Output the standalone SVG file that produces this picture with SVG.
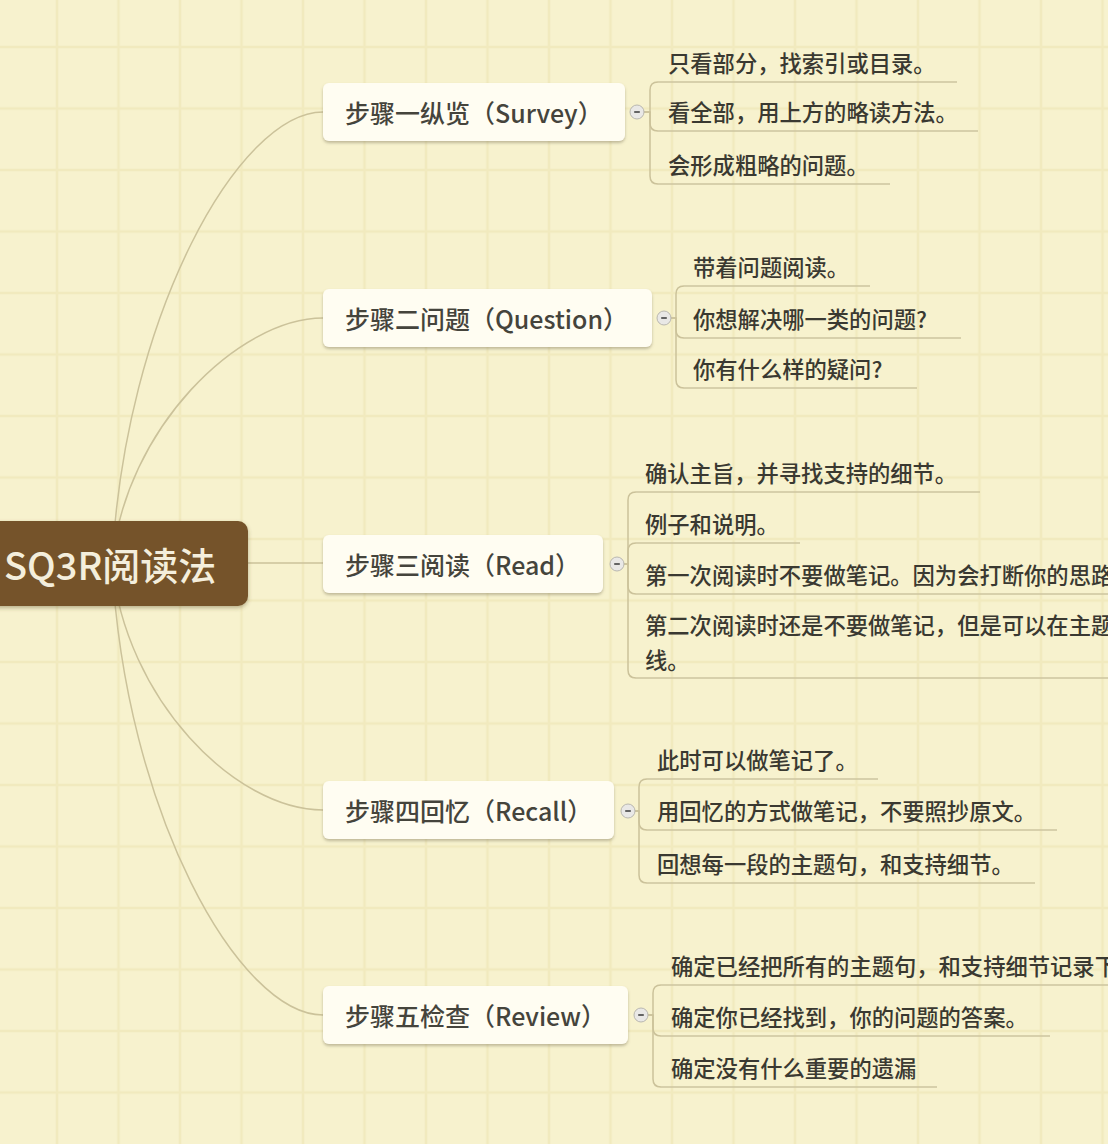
<svg xmlns="http://www.w3.org/2000/svg" width="1108" height="1144" viewBox="0 0 1108 1144">
<defs>
<pattern id="grid" patternUnits="userSpaceOnUse" x="26.25" y="16.25" width="61.5" height="61.5">
<rect width="61.5" height="61.5" fill="#f7f2ce"/>
<line x1="30.75" y1="0" x2="30.75" y2="61.5" stroke="#f1eabe" stroke-width="2.5"/>
<line x1="0" y1="30.75" x2="61.5" y2="30.75" stroke="#f1eabe" stroke-width="2.5"/>
</pattern>
<filter id="sh" x="-10%" y="-20%" width="120%" height="150%">
<feDropShadow dx="0" dy="2" stdDeviation="1.6" flood-color="#7d7458" flood-opacity="0.45"/>
</filter>
<filter id="rsh" x="-10%" y="-20%" width="120%" height="150%">
<feDropShadow dx="0" dy="2" stdDeviation="2" flood-color="#5a4a2a" flood-opacity="0.4"/>
</filter>
<g id="btn">
<circle cx="0" cy="0" r="7" fill="#e9e8e6" stroke="#b9b7b0" stroke-width="1"/>
<line x1="-2.8" y1="0" x2="2.8" y2="0" stroke="#555555" stroke-width="1.8"/>
</g>
</defs>
<style>
.conn{fill:none;stroke:#cbc29a;stroke-width:1.5}
.ul{stroke:#cdc59f;stroke-width:1.5}
.step rect{fill:#fffdf2;filter:url(#sh)}
.stxt{font-family:"Noto Sans CJK SC","Noto Sans",sans-serif;font-size:25px;font-weight:500;fill:#45443c}
.ltxt{font-family:"Noto Sans CJK SC","Noto Sans",sans-serif;font-size:22.3px;font-weight:500;fill:#3a3931}
.rtxt{font-family:"Noto Sans CJK SC","Noto Sans",sans-serif;font-size:38px;font-weight:500;fill:#f4eedc}
</style>
<rect width="1108" height="1144" fill="url(#grid)"/>

<g id="connectors">
<path class="conn" d="M112 563 C125 315 239 112 323 112"/>
<path class="conn" d="M112 563 C125 428 239 318 323 318"/>
<path class="conn" d="M240 563 H323"/>
<path class="conn" d="M112 563 C125 699 235 810 323 810"/>
<path class="conn" d="M112 563 C125 812 239 1015 323 1015"/>
<path class="conn" d="M643 112 H650 V90 Q650 82 658 82"/>
<path class="conn" d="M643 112 H650 V123 Q650 131 658 131"/>
<path class="conn" d="M650 112 V176 Q650 184 658 184"/>
<path class="conn" d="M670 318 H676 V294 Q676 286 684 286"/>
<path class="conn" d="M670 318 H676 V330 Q676 338 684 338"/>
<path class="conn" d="M676 318 V380 Q676 388 684 388"/>
<path class="conn" d="M623 564 H628 V500 Q628 492 636 492"/>
<path class="conn" d="M628 564 V551 Q628 543 636 543"/>
<path class="conn" d="M623 564 H628 V586 Q628 594 636 594"/>
<path class="conn" d="M628 564 V670 Q628 678 636 678"/>
<path class="conn" d="M634 811 H639 V787 Q639 779 647 779"/>
<path class="conn" d="M634 811 H639 V822 Q639 830 647 830"/>
<path class="conn" d="M639 811 V875 Q639 883 647 883"/>
<path class="conn" d="M647 1015 H653 V993 Q653 985 661 985"/>
<path class="conn" d="M647 1015 H653 V1028 Q653 1036 661 1036"/>
<path class="conn" d="M653 1015 V1079 Q653 1087 661 1087"/>
</g>

<g id="root">
<rect x="-12" y="521" width="260" height="85" rx="10" fill="#74532a" filter="url(#rsh)"/>
<text class="rtxt" x="4" y="580">SQ3R阅读法</text>
</g>

<g id="step1" class="step">
<rect x="323" y="83" width="302" height="58" rx="6"/>
<text class="stxt" x="345" y="122.5">步骤一纵览（Survey）</text>
<use href="#btn" x="637" y="112"/>
</g>
<g id="step2" class="step">
<rect x="323" y="289" width="329" height="58" rx="6"/>
<text class="stxt" x="345" y="328.5">步骤二问题（Question）</text>
<use href="#btn" x="664" y="318"/>
</g>
<g id="step3" class="step">
<rect x="323" y="535" width="280" height="58" rx="6"/>
<text class="stxt" x="345" y="574.5">步骤三阅读（Read）</text>
<use href="#btn" x="617" y="564"/>
</g>
<g id="step4" class="step">
<rect x="323" y="781" width="291" height="58" rx="6"/>
<text class="stxt" x="345" y="820.5">步骤四回忆（Recall）</text>
<use href="#btn" x="628" y="811"/>
</g>
<g id="step5" class="step">
<rect x="323" y="986" width="305" height="58" rx="6"/>
<text class="stxt" x="345" y="1025.5">步骤五检查（Review）</text>
<use href="#btn" x="641" y="1015"/>
</g>

<g id="leaf1-1"><text class="ltxt" x="668" y="72">只看部分，找索引或目录。</text><line class="ul" x1="658" y1="82" x2="957" y2="82"/></g>
<g id="leaf1-2"><text class="ltxt" x="668" y="121">看全部，用上方的略读方法。</text><line class="ul" x1="658" y1="131" x2="978" y2="131"/></g>
<g id="leaf1-3"><text class="ltxt" x="668" y="174">会形成粗略的问题。</text><line class="ul" x1="658" y1="184" x2="890" y2="184"/></g>

<g id="leaf2-1"><text class="ltxt" x="693" y="276">带着问题阅读。</text><line class="ul" x1="684" y1="286" x2="870" y2="286"/></g>
<g id="leaf2-2"><text class="ltxt" x="693" y="328">你想解决哪一类的问题?</text><line class="ul" x1="684" y1="338" x2="961" y2="338"/></g>
<g id="leaf2-3"><text class="ltxt" x="693" y="378">你有什么样的疑问?</text><line class="ul" x1="684" y1="388" x2="917" y2="388"/></g>

<g id="leaf3-1"><text class="ltxt" x="645" y="482">确认主旨，并寻找支持的细节。</text><line class="ul" x1="636" y1="492" x2="980" y2="492"/></g>
<g id="leaf3-2"><text class="ltxt" x="645" y="533">例子和说明。</text><line class="ul" x1="636" y1="543" x2="800" y2="543"/></g>
<g id="leaf3-3"><text class="ltxt" x="645" y="584">第一次阅读时不要做笔记。因为会打断你的思路</text><line class="ul" x1="636" y1="594" x2="1120" y2="594"/></g>
<g id="leaf3-4"><text class="ltxt" x="645" y="634">第二次阅读时还是不要做笔记，但是可以在主题</text><text class="ltxt" x="645" y="669">线。</text><line class="ul" x1="636" y1="678" x2="1120" y2="678"/></g>

<g id="leaf4-1"><text class="ltxt" x="657" y="769">此时可以做笔记了。</text><line class="ul" x1="647" y1="779" x2="878" y2="779"/></g>
<g id="leaf4-2"><text class="ltxt" x="657" y="820">用回忆的方式做笔记，不要照抄原文。</text><line class="ul" x1="647" y1="830" x2="1057" y2="830"/></g>
<g id="leaf4-3"><text class="ltxt" x="657" y="873">回想每一段的主题句，和支持细节。</text><line class="ul" x1="647" y1="883" x2="1035" y2="883"/></g>

<g id="leaf5-1"><text class="ltxt" x="671" y="975">确定已经把所有的主题句，和支持细节记录下</text><line class="ul" x1="661" y1="985" x2="1120" y2="985"/></g>
<g id="leaf5-2"><text class="ltxt" x="671" y="1026">确定你已经找到，你的问题的答案。</text><line class="ul" x1="661" y1="1036" x2="1050" y2="1036"/></g>
<g id="leaf5-3"><text class="ltxt" x="671" y="1077">确定没有什么重要的遗漏</text><line class="ul" x1="661" y1="1087" x2="937" y2="1087"/></g>
</svg>
